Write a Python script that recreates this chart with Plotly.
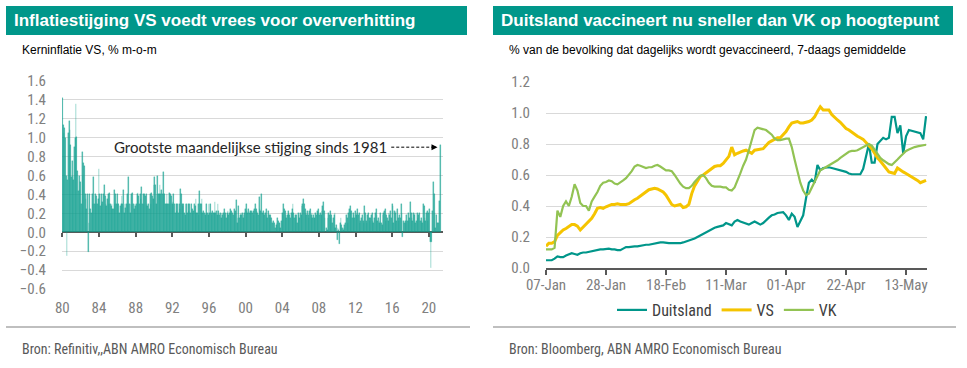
import plotly.graph_objects as go
import pandas as pd

# ---------------- Left chart data: US core inflation, % m-o-m (monthly) ----------------
core_1980s = [
    1.42, 1.13, 1.05, 1.10, 1.00, 0.60, -0.25, 0.55, 1.05, 1.18, 1.08, 0.92,   # 1980
    0.58, 0.75, 0.60, 0.55, 0.90, 1.00, 1.36, 1.01, 0.65, 0.44, 0.60, 0.45,    # 1981
    0.53, 0.30, 0.85, 0.60, 0.73, 0.70, 0.40, 0.35, 0.25, 0.40, -0.21, 0.10,   # 1982
    0.41, 0.25, 0.20, 0.40, 0.30, 0.58, 0.30, 0.40, 0.30, 0.38, 0.30, 0.35,    # 1983
    0.67, 0.40, 0.28, 0.40, 0.30, 0.32, 0.40, 0.50, 0.38, 0.30, 0.28, 0.35,    # 1984
    0.40, 0.30, 0.42, 0.30, 0.28, 0.30, 0.25, 0.25, 0.45, 0.30, 0.40, 0.30,    # 1985
    0.40, 0.30, 0.30, 0.20, 0.28, 0.30, 0.38, 0.30, 0.45, 0.20, 0.30, 0.26,    # 1986
    0.30, 0.40, 0.30, 0.58, 0.30, 0.20, 0.30, 0.40, 0.42, 0.30, 0.25, 0.30,    # 1987
    0.28, 0.30, 0.40, 0.42, 0.38, 0.30, 0.40, 0.35, 0.48, 0.30, 0.40, 0.30,    # 1988
    0.40, 0.38, 0.40, 0.30, 0.28, 0.30, 0.25, 0.40, 0.30, 0.42, 0.38, 0.35,    # 1989
]
core_1990s = [
    0.50, 0.58, 0.50, 0.30, 0.40, 0.60, 0.40, 0.40, 0.50, 0.40, 0.45, 0.40,    # 1990
    0.64, 0.40, 0.40, 0.30, 0.30, 0.40, 0.30, 0.30, 0.42, 0.30, 0.40, 0.38,    # 1991
    0.30, 0.32, 0.40, 0.30, 0.20, 0.30, 0.22, 0.30, 0.20, 0.30, 0.25, 0.46,    # 1992
    0.40, 0.30, 0.28, 0.30, 0.20, 0.18, 0.30, 0.30, 0.20, 0.30, 0.22, 0.30,    # 1993
    0.20, 0.30, 0.25, 0.20, 0.22, 0.30, 0.28, 0.35, 0.20, 0.20, 0.30, 0.18,    # 1994
    0.44, 0.30, 0.30, 0.35, 0.20, 0.22, 0.20, 0.18, 0.20, 0.30, 0.20, 0.18,    # 1995
    0.30, 0.20, 0.30, 0.20, 0.18, 0.22, 0.20, 0.20, 0.32, 0.20, 0.22, 0.18,    # 1996
    0.30, 0.22, 0.18, 0.20, 0.15, 0.20, 0.18, 0.20, 0.25, 0.18, 0.20, 0.15,    # 1997
    0.20, 0.22, 0.18, 0.20, 0.25, 0.20, 0.22, 0.20, 0.18, 0.25, 0.20, 0.22,    # 1998
    0.34, 0.10, 0.15, 0.28, 0.15, 0.18, 0.20, 0.18, 0.20, 0.15, 0.18, 0.20,    # 1999
]
core_2000s = [
    0.25, 0.30, 0.22, 0.20, 0.25, 0.20, 0.22, 0.20, 0.22, 0.20, 0.22, 0.18,    # 2000
    0.25, 0.30, 0.25, 0.22, 0.20, 0.18, 0.37, 0.25, 0.22, 0.40, 0.20, 0.22,    # 2001
    0.20, 0.18, 0.20, 0.25, 0.18, 0.15, 0.22, 0.18, 0.15, 0.18, 0.15, 0.10,    # 2002
    0.00, 0.12, 0.10, 0.05, 0.08, 0.10, 0.15, 0.12, 0.10, 0.10, 0.05, 0.12,    # 2003
    0.20, 0.18, 0.30, 0.25, 0.22, 0.18, 0.15, 0.18, 0.22, 0.20, 0.18, 0.15,    # 2004
    0.20, 0.25, 0.30, 0.20, 0.15, 0.18, 0.15, 0.18, 0.10, 0.20, 0.18, 0.15,    # 2005
    0.20, 0.18, 0.28, 0.30, 0.35, 0.30, 0.25, 0.20, 0.18, 0.22, 0.18, 0.15,    # 2006
    0.22, 0.25, 0.18, 0.20, 0.15, 0.18, 0.15, 0.15, 0.20, 0.18, 0.22, 0.20,    # 2007
    0.25, 0.18, 0.20, 0.18, 0.22, 0.28, 0.32, 0.22, 0.15, 0.00, 0.05, 0.02,    # 2008
    0.15, 0.20, 0.18, 0.22, 0.15, 0.18, 0.10, 0.15, 0.18, 0.20, 0.05, 0.08,    # 2009
]
core_2010s = [
    -0.08, 0.05, 0.02, -0.12, 0.10, 0.15, 0.08, 0.05, 0.02, 0.05, 0.08, 0.10,  # 2010
    0.18, 0.15, 0.10, 0.20, 0.25, 0.28, 0.20, 0.22, 0.15, 0.20, 0.18, 0.15,    # 2011
    0.22, 0.18, 0.20, 0.25, 0.18, 0.20, 0.10, 0.12, 0.15, 0.18, 0.12, 0.10,    # 2012
    0.28, 0.20, 0.12, 0.10, 0.18, 0.20, 0.15, 0.12, 0.15, 0.18, 0.20, 0.12,    # 2013
    0.10, 0.15, 0.20, 0.25, 0.18, 0.12, 0.15, 0.10, 0.12, 0.20, 0.10, 0.08,    # 2014
    0.18, 0.20, 0.22, 0.25, 0.12, 0.18, 0.15, 0.12, 0.20, 0.18, 0.22, 0.15,    # 2015
    0.30, 0.28, 0.10, 0.22, 0.20, 0.22, 0.12, 0.25, 0.15, 0.12, 0.18, 0.15,    # 2016
    0.30, 0.20, -0.05, 0.12, 0.10, 0.12, 0.10, 0.18, 0.12, 0.20, 0.12, 0.15,   # 2017
    0.32, 0.20, 0.15, 0.12, 0.20, 0.18, 0.20, 0.10, 0.12, 0.20, 0.15, 0.18,    # 2018
    0.20, 0.12, 0.15, 0.12, 0.10, 0.30, 0.28, 0.15, 0.12, 0.20, 0.22, 0.12,    # 2019
]
core_2020s = [
    0.20, 0.25, -0.10, -0.38, -0.10, 0.22, 0.53, 0.40, 0.20, 0.05, 0.18, 0.10, # 2020
    0.00, 0.10, 0.33, 0.92,                                                    # 2021
]
start_year = 1980
left_tick_years = [1980, 1984, 1988, 1992, 1996, 2000, 2004, 2008, 2012, 2016, 2020]
left_tick_labels = ["80", "84", "88", "92", "96", "00", "04", "08", "12", "16", "20"]
left_y_ticks = [-0.6, -0.4, -0.2, 0.0, 0.2, 0.4, 0.6, 0.8, 1.0, 1.2, 1.4, 1.6]

# ---------------- Right chart data: daily vaccinations, % of population, 7d avg ----------------
start_date = "2021-01-07"
duitsland = [
    0.05, 0.05, 0.05, 0.06, 0.075, 0.07, 0.07, 0.08, 0.09, 0.095, 0.09, 0.085, 0.095, 0.10,
    0.10, 0.105, 0.105, 0.11, 0.115, 0.12, 0.12, 0.125, 0.125, 0.12, 0.12, 0.115, 0.115, 0.125,
    0.135, 0.135, 0.14, 0.14, 0.14, 0.145, 0.145, 0.15, 0.15, 0.155, 0.16, 0.16, 0.165, 0.165,
    0.16, 0.16, 0.16, 0.16, 0.16, 0.16, 0.165, 0.17, 0.175, 0.18, 0.19, 0.20, 0.21, 0.22,
    0.235, 0.245, 0.25, 0.26, 0.265, 0.27, 0.275, 0.29, 0.28, 0.275, 0.30, 0.31, 0.30, 0.295,
    0.285, 0.28, 0.29, 0.30, 0.29, 0.28, 0.29, 0.31, 0.325, 0.34, 0.345, 0.355, 0.36, 0.36,
    0.34, 0.31, 0.35, 0.33, 0.265, 0.30, 0.34, 0.45, 0.55, 0.57, 0.55, 0.665, 0.63, 0.645,
    0.65, 0.65, 0.645, 0.64, 0.635, 0.63, 0.625, 0.62, 0.61, 0.605, 0.605, 0.605, 0.605, 0.64,
    0.73, 0.80, 0.68, 0.68, 0.80, 0.82, 0.84, 0.83, 0.84, 0.975, 0.975, 0.87, 0.92, 0.74,
    0.85, 0.89, 0.885, 0.88, 0.875, 0.87, 0.83, 0.98,
]
vs = [
    0.14, 0.16, 0.16, 0.17, 0.21, 0.23, 0.245, 0.255, 0.265, 0.28, 0.28, 0.27, 0.245, 0.265,
    0.28, 0.30, 0.32, 0.35, 0.385, 0.39, 0.385, 0.395, 0.405, 0.41, 0.41, 0.415, 0.41, 0.41,
    0.41, 0.415, 0.43, 0.44, 0.45, 0.465, 0.48, 0.495, 0.505, 0.51, 0.515, 0.51, 0.50, 0.49,
    0.47, 0.44, 0.41, 0.40, 0.405, 0.41, 0.39, 0.395, 0.41, 0.48, 0.53, 0.56, 0.59, 0.60,
    0.615, 0.63, 0.645, 0.655, 0.66, 0.66, 0.675, 0.70, 0.72, 0.78, 0.73, 0.74, 0.75, 0.755,
    0.76, 0.75, 0.74, 0.76, 0.765, 0.77, 0.77, 0.79, 0.81, 0.82, 0.83, 0.84, 0.84, 0.86,
    0.88, 0.91, 0.935, 0.94, 0.945, 0.935, 0.935, 0.94, 0.945, 0.955, 0.975, 1.01, 1.04, 1.02,
    1.02, 1.02, 0.99, 0.97, 0.955, 0.94, 0.92, 0.90, 0.89, 0.875, 0.86, 0.85, 0.84, 0.83,
    0.81, 0.79, 0.77, 0.74, 0.71, 0.69, 0.665, 0.645, 0.62, 0.615, 0.61, 0.645, 0.63, 0.62,
    0.61, 0.60, 0.59, 0.58, 0.565, 0.55, 0.56, 0.565,
]
vk = [
    0.12, 0.12, 0.12, 0.13, 0.37, 0.33, 0.40, 0.43, 0.40, 0.46, 0.54, 0.50, 0.42, 0.40,
    0.40, 0.37, 0.43, 0.46, 0.49, 0.53, 0.55, 0.555, 0.565, 0.56, 0.545, 0.54, 0.55, 0.565,
    0.58, 0.60, 0.625, 0.655, 0.665, 0.66, 0.65, 0.645, 0.65, 0.65, 0.66, 0.665, 0.655, 0.645,
    0.63, 0.63, 0.625, 0.60, 0.57, 0.545, 0.525, 0.515, 0.515, 0.53, 0.555, 0.575, 0.595, 0.60,
    0.58, 0.55, 0.53, 0.525, 0.525, 0.525, 0.52, 0.52, 0.505, 0.50, 0.52, 0.56, 0.61, 0.66,
    0.70, 0.76, 0.83, 0.89, 0.905, 0.90, 0.895, 0.89, 0.875, 0.86, 0.835, 0.825, 0.825, 0.83,
    0.835, 0.835, 0.78, 0.70, 0.62, 0.55, 0.50, 0.47, 0.48, 0.52, 0.56, 0.60, 0.63, 0.64,
    0.65, 0.66, 0.67, 0.68, 0.695, 0.71, 0.725, 0.74, 0.75, 0.755, 0.755, 0.76, 0.77, 0.78,
    0.79, 0.80, 0.79, 0.765, 0.74, 0.71, 0.695, 0.68, 0.67, 0.665, 0.68, 0.70, 0.72, 0.74,
    0.755, 0.765, 0.775, 0.78, 0.785, 0.79, 0.795, 0.795,
]
right_tick_dates = ["2021-01-07", "2021-01-28", "2021-02-18", "2021-03-11",
                    "2021-04-01", "2021-04-22", "2021-05-13"]
right_tick_labels = ["07-Jan", "28-Jan", "18-Feb", "11-Mar", "01-Apr", "22-Apr", "13-May"]
right_y_ticks = [0.0, 0.2, 0.4, 0.6, 0.8, 1.0, 1.2]

# ---------------- Layout helpers ----------------
W, H = 967, 368
def px(x):
    return x / W
def py(y):
    return 1 - y / H

TEAL = "#00978A"
GRID = "#D9D9D9"
AXIS = "#595959"
NARROW = "Liberation Sans Narrow, Arial Narrow, Roboto Condensed, DejaVu Sans Condensed, sans-serif"
TICKFONT = dict(family=NARROW, size=15, color="#808080")

core = core_1980s + core_1990s + core_2000s + core_2010s + core_2020s
months_x = [start_year + i / 12 for i in range(len(core))]
dates = pd.date_range(start_date, periods=len(duitsland), freq="D")

fig = go.Figure()
fig.add_trace(go.Bar(x=months_x, y=core, xaxis="x", yaxis="y", width=1 / 12,
                     marker=dict(color="rgba(20,160,145,0.8)",
                                 line=dict(width=0.4, color="rgba(20,160,145,0.55)")),
                     showlegend=False, hoverinfo="x+y"))
fig.add_trace(go.Scatter(x=[], y=[], xaxis="x3", yaxis="y", showlegend=False))

fig.add_trace(go.Scatter(x=dates, y=duitsland, mode="lines", name="Duitsland",
                         line=dict(color="#00968A", width=2.2), xaxis="x2", yaxis="y2"))
fig.add_trace(go.Scatter(x=dates, y=vs, mode="lines", name="VS",
                         line=dict(color="#F5C400", width=3), xaxis="x2", yaxis="y2"))
fig.add_trace(go.Scatter(x=dates, y=vk, mode="lines", name="VK",
                         line=dict(color="#92C353", width=2.2), xaxis="x2", yaxis="y2"))

left_dom_x = [px(62), px(443)]
left_dom_y = [py(289), py(81)]
right_dom_x = [px(546), px(927)]
right_dom_y = [py(268), py(82)]

left_range = [start_year - 0.04, 2021.55]

fig.update_layout(
    template="none",
    width=W, height=H, margin=dict(l=0, r=0, t=0, b=0, pad=0, autoexpand=False),
    paper_bgcolor="white", plot_bgcolor="white",
    bargap=0,
    xaxis=dict(domain=left_dom_x, anchor="y", range=left_range, automargin=False,
               tickvals=left_tick_years, ticktext=left_tick_labels,
               showgrid=False, zeroline=False, showline=False,
               ticks="outside", ticklen=9, tickcolor="rgba(0,0,0,0)",
               ticklabelstandoff=-4,
               tickfont=TICKFONT, fixedrange=True),
    xaxis3=dict(overlaying="x", anchor="free", position=py(232), range=left_range,
                automargin=False, tickvals=left_tick_years, showticklabels=False,
                showgrid=False, zeroline=False, showline=False,
                ticks="outside", ticklen=4, tickwidth=2, tickcolor=AXIS),
    yaxis=dict(domain=left_dom_y, anchor="x", range=[-0.6, 1.6], automargin=False,
               tickvals=left_y_ticks, tickformat=".1f",
               showgrid=True, gridcolor=GRID, gridwidth=1,
               zeroline=True, zerolinecolor=AXIS, zerolinewidth=2,
               showline=False, ticks="outside", ticklen=12, tickcolor="rgba(0,0,0,0)",
               tickfont=TICKFONT),
    xaxis2=dict(domain=right_dom_x, anchor="y2", type="date", automargin=False,
                range=["2021-01-07", "2021-05-20 08:00"],
                tickvals=right_tick_dates, ticktext=right_tick_labels,
                showgrid=False, zeroline=False,
                showline=True, linecolor=AXIS, linewidth=2,
                ticks="outside", ticklen=5, tickwidth=2, tickcolor=AXIS,
                ticklabelstandoff=-3,
                tickfont=TICKFONT),
    yaxis2=dict(domain=right_dom_y, anchor="x2", range=[0, 1.2], automargin=False,
                tickvals=right_y_ticks, tickformat=".1f",
                showgrid=True, gridcolor=GRID, gridwidth=1,
                zeroline=False, showline=False,
                ticks="outside", ticklen=12, tickcolor="rgba(0,0,0,0)",
                tickfont=TICKFONT),
    legend=dict(orientation="h", x=px(727), xanchor="center", y=py(310), yanchor="middle",
                font=dict(family=NARROW, size=16, color="#404040"),
                itemwidth=30, bgcolor="rgba(0,0,0,0)"),
)

shapes = [
    dict(type="rect", xref="paper", yref="paper", x0=px(6), x1=px(467), y0=py(35), y1=py(6),
         fillcolor=TEAL, line=dict(width=0), layer="below"),
    dict(type="rect", xref="paper", yref="paper", x0=px(493), x1=px(953), y0=py(35), y1=py(6),
         fillcolor=TEAL, line=dict(width=0), layer="below"),
    dict(type="line", xref="paper", yref="paper", x0=px(6), x1=px(470), y0=py(327), y1=py(327),
         line=dict(color="#BFBFBF", width=2)),
    dict(type="line", xref="paper", yref="paper", x0=px(493), x1=px(956), y0=py(327), y1=py(327),
         line=dict(color="#BFBFBF", width=2)),
    dict(type="line", xref="x", yref="y", x0=2015.9, x1=2020.4, y0=0.9, y1=0.9,
         line=dict(color="black", width=1, dash="3px,2px")),
]
fig.update_layout(shapes=shapes)

TITLE_FONT = dict(family="Liberation Sans, Arial, sans-serif", size=17, color="white")
SUB_FONT = dict(family="Liberation Sans, Arial, sans-serif", size=12, color="black")
SRC_FONT = dict(family=NARROW, size=14, color="#595959")

annotations = [
    dict(text="<b>Inflatiestijging VS voedt vrees voor oververhitting</b>", xref="paper", yref="paper",
         x=px(12), y=py(21), xanchor="left", yanchor="middle", showarrow=False, font=TITLE_FONT),
    dict(text="<b>Duitsland vaccineert nu sneller dan VK op hoogtepunt</b>", xref="paper", yref="paper",
         x=px(499), y=py(21), xanchor="left", yanchor="middle", showarrow=False, font=TITLE_FONT),
    dict(text="Kerninflatie VS, % m-o-m", xref="paper", yref="paper",
         x=px(20), y=py(50), xanchor="left", yanchor="middle", showarrow=False, font=SUB_FONT),
    dict(text="% van de bevolking dat dagelijks wordt gevaccineerd, 7-daags gemiddelde", xref="paper",
         yref="paper", x=px(507), y=py(50), xanchor="left", yanchor="middle", showarrow=False,
         font=SUB_FONT),
    dict(text="Bron: Refinitiv,,ABN AMRO Economisch Bureau", xref="paper", yref="paper",
         x=px(20), y=py(349), xanchor="left", yanchor="middle", showarrow=False, font=SRC_FONT),
    dict(text="Bron: Bloomberg, ABN AMRO Economisch Bureau", xref="paper", yref="paper",
         x=px(507), y=py(349), xanchor="left", yanchor="middle", showarrow=False, font=SRC_FONT),
    dict(text="Grootste maandelijkse stijging sinds 1981", xref="x", yref="y",
         x=1985.4, y=0.9, xanchor="left", yanchor="middle", showarrow=False,
         font=dict(family="Lato, Carlito, sans-serif", size=15, color="#262626")),
    dict(text="", xref="x", yref="y", x=2020.95, y=0.9, ax=2020.3, ay=0.9, axref="x", ayref="y",
         showarrow=True, arrowhead=2, arrowsize=1.2, arrowwidth=1, arrowcolor="black"),
]
fig.update_layout(annotations=annotations)

fig.write_html("out.html", config={"displayModeBar": False},
               post_script="document.body.style.margin='0px';")
